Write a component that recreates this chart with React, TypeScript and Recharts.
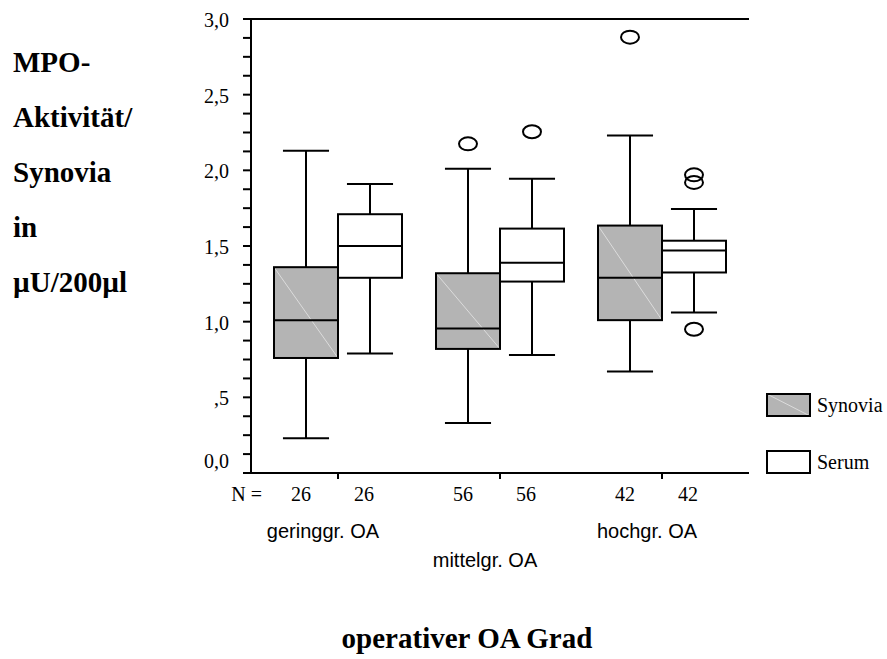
import React from "react";
import { ComposedChart, Bar, XAxis, YAxis, ReferenceLine, Legend } from "recharts";

// ---- data ----
const groups = ["geringgr. OA", "mittelgr. OA", "hochgr. OA"];
const counts = [26, 56, 42];
const seriesNames = ["Synovia", "Serum"];

const synoviaMin = [0.23, 0.33, 0.67];
const synoviaQ1 = [0.76, 0.82, 1.01];
const synoviaMedian = [1.01, 0.955, 1.29];
const synoviaQ3 = [1.36, 1.32, 1.635];
const synoviaMax = [2.13, 2.01, 2.23];
const synoviaOutliers: number[][] = [[], [2.175], [2.88]];

const serumMin = [0.79, 0.78, 1.06];
const serumQ1 = [1.29, 1.265, 1.325];
const serumMedian = [1.5, 1.39, 1.47];
const serumQ3 = [1.71, 1.615, 1.535];
const serumMax = [1.91, 1.945, 1.745];
const serumOutliers: number[][] = [[], [2.255], [1.97, 1.92, 0.95]];

const yTicks = [
  0, 0.125, 0.25, 0.375, 0.5, 0.625, 0.75, 0.875, 1, 1.125, 1.25, 1.375, 1.5,
  1.625, 1.75, 1.875, 2, 2.125, 2.25, 2.375, 2.5, 2.625, 2.75, 2.875, 3,
];
const yMajorTicks = [0, 0.5, 1, 1.5, 2, 2.5, 3];
const yMajorLabels = ["0,0", ",5", "1,0", "1,5", "2,0", "2,5", "3,0"];

const yTitleLines = ["MPO-", "Aktivität/", "Synovia", "in", "µU/200µl"];
const xTitle = "operativer OA Grad";

const data = groups.map((g, i) => ({
  group: g,
  n: counts[i],
  syn: {
    min: synoviaMin[i], q1: synoviaQ1[i], med: synoviaMedian[i],
    q3: synoviaQ3[i], max: synoviaMax[i], out: synoviaOutliers[i],
  },
  ser: {
    min: serumMin[i], q1: serumQ1[i], med: serumMedian[i],
    q3: serumQ3[i], max: serumMax[i], out: serumOutliers[i],
  },
}));

const SERIF = "'Liberation Serif', 'Times New Roman', serif";
const SANS = "'Liberation Sans', Arial, sans-serif";
const GRAY = "#b4b4b4";

const makeBoxShape = (key: "syn" | "ser", fill: string, diag: boolean) => (props: any) => {
  const { x, y, width, height, payload } = props;
  const s = payload[key];
  const top = Math.min(y, y + height);
  const bot = Math.max(y, y + height);
  const pix = (v: number) => top + ((bot - top) * (s.max - v)) / (s.max - s.min);
  const cx = x + width / 2;
  const cap = width * 0.36;
  const yQ3 = pix(s.q3);
  const yQ1 = pix(s.q1);
  return (
    <g>
      <line x1={cx} x2={cx} y1={pix(s.max)} y2={yQ3} stroke="#000" strokeWidth={2} />
      <line x1={cx} x2={cx} y1={yQ1} y2={pix(s.min)} stroke="#000" strokeWidth={2} />
      <line x1={cx - cap} x2={cx + cap} y1={pix(s.max)} y2={pix(s.max)} stroke="#000" strokeWidth={2} />
      <line x1={cx - cap} x2={cx + cap} y1={pix(s.min)} y2={pix(s.min)} stroke="#000" strokeWidth={2} />
      <rect x={x} y={yQ3} width={width} height={yQ1 - yQ3} fill={fill} stroke="none" />
      {diag && <line x1={x} y1={yQ3} x2={x + width} y2={yQ1} stroke="#dcdcdc" strokeWidth={1} />}
      <rect x={x} y={yQ3} width={width} height={yQ1 - yQ3} fill="none" stroke="#000" strokeWidth={2} />
      <line x1={x} x2={x + width} y1={pix(s.med)} y2={pix(s.med)} stroke="#000" strokeWidth={2} />
      {s.out.map((v: number, k: number) => (
        <ellipse key={k} cx={cx} cy={pix(v)} rx={9} ry={6.5} fill="#fff" fillOpacity={0} stroke="#000" strokeWidth={2} />
      ))}
    </g>
  );
};

const YTick = (props: any) => {
  const { x, y, payload } = props;
  const idx = yMajorTicks.indexOf(payload.value);
  if (idx < 0) return <g />;
  return (
    <text
      x={x - 12}
      y={y + (payload.value === 0 ? -12 : 1)}
      dy="0.35em"
      textAnchor="end"
      fontFamily={SERIF}
      fontSize={20}
      fill="#000"
    >
      {yMajorLabels[idx]}
    </text>
  );
};

const XTick = (props: any) => {
  const { x, y, payload } = props;
  const i = groups.indexOf(payload.value);
  return (
    <g>
      {i === 0 && (
        <text x={x - 76} y={y + 20} textAnchor="end" fontFamily={SERIF} fontSize={20} fill="#000">
          N =
        </text>
      )}
      <text x={x - 37} y={y + 20} textAnchor="middle" fontFamily={SERIF} fontSize={20} fill="#000">
        {counts[i]}
      </text>
      <text x={x + 26} y={y + 20} textAnchor="middle" fontFamily={SERIF} fontSize={20} fill="#000">
        {counts[i]}
      </text>
      <text
        x={x - 15}
        y={y + (i === 1 ? 86 : 57)}
        textAnchor="middle"
        fontFamily={SANS}
        fontSize={20}
        fill="#000"
      >
        {payload.value}
      </text>
    </g>
  );
};

const LegendContent = () => (
  <svg width={127} height={95} style={{ display: "block" }}>
    {seriesNames.map((name, i) => {
      const ry = 4 + i * 57;
      return (
        <g key={name}>
          <rect x={7} y={ry} width={43} height={22} fill={i === 0 ? GRAY : "#fff"} stroke="none" />
          {i === 0 && <line x1={7} y1={ry} x2={50} y2={ry + 22} stroke="#dcdcdc" strokeWidth={1} />}
          <rect x={7} y={ry} width={43} height={22} fill="none" stroke="#000" strokeWidth={2} />
          <text x={57} y={ry + 18} fontFamily={SERIF} fontSize={20} fill="#000">
            {name}
          </text>
        </g>
      );
    })}
  </svg>
);

export default function App() {
  return (
    <div style={{ position: "absolute", left: 0, top: 0, width: 887, height: 659, background: "#fff" }}>
      <ComposedChart
        width={887}
        height={659}
        data={data}
        margin={{ top: 19, right: 138, bottom: 36, left: 191 }}
        barGap={0}
      >
        <XAxis
          dataKey="group"
          type="category"
          padding={{ left: 6, right: 6 }}
          height={150}
          interval={0}
          tickSize={6}
          tickLine={{ stroke: "#000", strokeWidth: 2 }}
          axisLine={{ stroke: "#000", strokeWidth: 2 }}
          tick={<XTick />}
        />
        <YAxis
          domain={[0, 3]}
          ticks={yTicks}
          interval={0}
          width={60}
          tickSize={8}
          tickLine={{ stroke: "#000", strokeWidth: 2 }}
          axisLine={{ stroke: "#000", strokeWidth: 2 }}
          tick={<YTick />}
          allowDataOverflow
        />
        <YAxis
          yAxisId="right"
          orientation="right"
          domain={[0, 3]}
          width={0}
          tick={false}
          tickLine={false}
          axisLine={{ stroke: "#000", strokeWidth: 2 }}
        />
        <ReferenceLine y={3} stroke="#000" strokeWidth={2} />
        <Legend
          layout="vertical"
          align="center"
          verticalAlign="middle"
          content={<LegendContent />}
          wrapperStyle={{ position: "absolute", left: 760, top: 390, width: 127, height: 95 }}
        />
        <Bar
          dataKey={(d: any) => [d.syn.min, d.syn.max]}
          name={seriesNames[0]}
          barSize={64}
          isAnimationActive={false}
          shape={makeBoxShape("syn", GRAY, true)}
        />
        <Bar
          dataKey={(d: any) => [d.ser.min, d.ser.max]}
          name={seriesNames[1]}
          barSize={64}
          isAnimationActive={false}
          shape={makeBoxShape("ser", "#fff", false)}
        />
      </ComposedChart>
      <svg
        width={887}
        height={659}
        style={{ position: "absolute", left: 0, top: 0, pointerEvents: "none" }}
      >
        {yTitleLines.map((t, i) => (
          <text
            key={t}
            x={13}
            y={72 + i * 55}
            fontFamily={SERIF}
            fontWeight="bold"
            fontSize={29}
            fill="#000"
          >
            {t}
          </text>
        ))}
        <text
          x={467}
          y={648}
          textAnchor="middle"
          fontFamily={SERIF}
          fontWeight="bold"
          fontSize={29}
          fill="#000"
        >
          {xTitle}
        </text>
      </svg>
    </div>
  );
}
